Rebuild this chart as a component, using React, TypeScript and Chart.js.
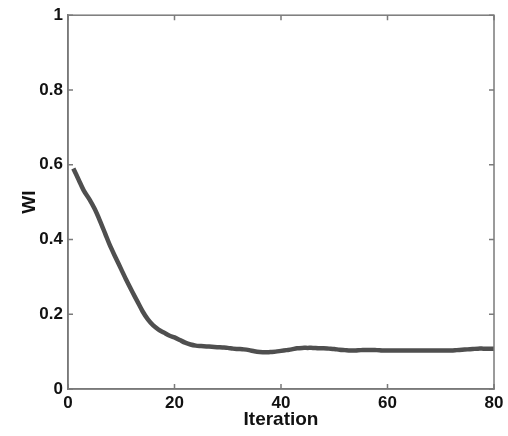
import React, { useEffect, useRef } from "react";
import { Chart, registerables } from "chart.js";

Chart.register(...registerables);

const iterations: number[] = Array.from({ length: 80 }, (_, i) => i + 1);

const wiValues: number[] = [
  0.59, 0.56, 0.53, 0.508, 0.482, 0.45, 0.415, 0.38, 0.35, 0.32,
  0.29, 0.262, 0.235, 0.208, 0.186, 0.17, 0.159, 0.151, 0.143, 0.138,
  0.131, 0.124, 0.119, 0.116, 0.115, 0.114, 0.113, 0.112, 0.111, 0.11,
  0.108, 0.107, 0.106, 0.104, 0.101, 0.099, 0.098, 0.099, 0.1, 0.102,
  0.104, 0.106, 0.109, 0.11, 0.11, 0.11, 0.109, 0.109, 0.108, 0.107,
  0.105, 0.104, 0.103, 0.103, 0.104, 0.104, 0.104, 0.104, 0.103, 0.103,
  0.103, 0.103, 0.103, 0.103, 0.103, 0.103, 0.103, 0.103, 0.103, 0.103,
  0.103, 0.103, 0.104, 0.105, 0.106, 0.107, 0.108, 0.108, 0.108, 0.108,
];

const xTickValues: number[] = [0, 20, 40, 60, 80];
const yTickValues: number[] = [0, 0.2, 0.4, 0.6, 0.8, 1];
const yTickLabels: string[] = ["0", "0.2", "0.4", "0.6", "0.8", "1"];
const xTickLabels: string[] = ["0", "20", "40", "60", "80"];

const FONT = "'Liberation Sans', Arial, sans-serif";
const AXIS_COLOR = "#7a7a7a";

const boxPlugin = {
  id: "matlabBox",
  afterDatasetsDraw(chart: any) {
    const { ctx, chartArea, scales } = chart;
    const { left, right, top, bottom } = chartArea;
    ctx.save();
    ctx.strokeStyle = AXIS_COLOR;
    ctx.lineWidth = 1.5;
    ctx.strokeRect(left, top, right - left, bottom - top);
    const len = 5;
    ctx.beginPath();
    xTickValues.forEach((v) => {
      const x = scales.x.getPixelForValue(v);
      ctx.moveTo(x, bottom);
      ctx.lineTo(x, bottom - len);
      ctx.moveTo(x, top);
      ctx.lineTo(x, top + len);
    });
    yTickValues.forEach((v) => {
      const y = scales.y.getPixelForValue(v);
      ctx.moveTo(left, y);
      ctx.lineTo(left + len, y);
      ctx.moveTo(right, y);
      ctx.lineTo(right - len, y);
    });
    ctx.stroke();
    ctx.restore();
  },
};

export default function App() {
  const canvasRef = useRef<HTMLCanvasElement | null>(null);

  useEffect(() => {
    if (!canvasRef.current) return;
    const chart = new Chart(canvasRef.current, {
      type: "line",
      data: {
        datasets: [
          {
            data: iterations.map((x, i) => ({ x, y: wiValues[i] })),
            borderColor: "#4f4f4f",
            borderWidth: 4.5,
            pointRadius: 0,
            tension: 0.3,
            fill: false,
          },
        ],
      },
      options: {
        animation: false,
        responsive: false,
        maintainAspectRatio: false,
        layout: { padding: { left: 0, right: 14, top: 13, bottom: 0 } },
        plugins: {
          legend: { display: false },
          tooltip: { enabled: false },
        },
        scales: {
          x: {
            type: "linear",
            min: 0,
            max: 80,
            afterFit: (scale: any) => {
              scale.height = 47;
            },
            afterBuildTicks: (scale: any) => {
              scale.ticks = xTickValues.map((v) => ({ value: v }));
            },
            grid: { display: false, drawTicks: false },
            border: { display: true, color: AXIS_COLOR, width: 1.5 },
            ticks: {
              padding: 4,
              color: "#111",
              font: { family: FONT, size: 17, weight: "bold" },
              callback: (v: any) => {
                const i = xTickValues.indexOf(Number(v));
                return i >= 0 ? xTickLabels[i] : "";
              },
              maxRotation: 0,
            },
            title: {
              display: true,
              text: "Iteration",
              color: "#111",
              font: { family: FONT, size: 19, weight: "bold" },
              padding: { top: 0, bottom: 5 },
            },
          },
          y: {
            type: "linear",
            min: 0,
            max: 1,
            afterFit: (scale: any) => {
              scale.width = 68;
            },
            afterBuildTicks: (scale: any) => {
              scale.ticks = yTickValues.map((v) => ({ value: v }));
            },
            grid: { display: false, drawTicks: false },
            border: { display: true, color: AXIS_COLOR, width: 1.5 },
            ticks: {
              padding: 5,
              color: "#111",
              font: { family: FONT, size: 17, weight: "bold" },
              callback: (v: any) => {
                const i = yTickValues.findIndex((t) => Math.abs(t - Number(v)) < 1e-9);
                return i >= 0 ? yTickLabels[i] : "";
              },
            },
            title: {
              display: true,
              text: "WI",
              color: "#111",
              font: { family: FONT, size: 19, weight: "bold" },
              padding: { top: 18, bottom: 0 },
            },
          },
        },
      },
      plugins: [boxPlugin],
    });
    return () => chart.destroy();
  }, []);

  return (
    <div style={{ position: "fixed", left: 0, top: 0, width: 508, height: 436, background: "#fff" }}>
      <canvas ref={canvasRef} width={508} height={436} style={{ width: 508, height: 436 }} />
    </div>
  );
}
